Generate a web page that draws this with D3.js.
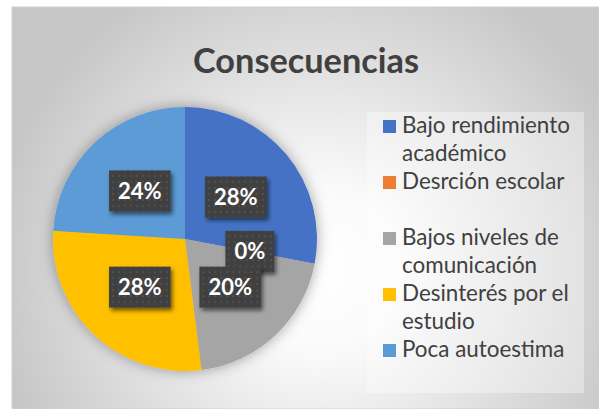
<!DOCTYPE html>
<html lang="es">
<head>
  <meta charset="UTF-8">
  <title>Consecuencias</title>
  <style>
    body { margin: 0; background: #fff; }
    svg { display: block; font-family: Lato, "Open Sans", sans-serif; }
  </style>
</head>
<body>
  <svg id="chart"></svg>

  <script src="https://d3js.org/d3.v7.min.js"></script>
  <script>
    // data
    const title = "Consecuencias";
    const categories = ["Bajo rendimiento académico", "Desrción escolar", "Bajos niveles de comunicación", "Desinterés por el estudio", "Poca autoestima"];
    const legendLines = [["Bajo rendimiento", "académico"], ["Desrción escolar", ""], ["Bajos niveles de", "comunicación"], ["Desinterés por el", "estudio"], ["Poca autoestima"]];
    const percents = [28, 0, 20, 28, 24];
    const colors = ["#4472C4", "#ED7D31", "#A5A5A5", "#FFC000", "#5B9BD5"];

    const W = 599, H = 409;
    const cx = 185, cy = 239, radius = 132;

    const svg = d3.select("#chart").attr("width", W).attr("height", H);
    const defs = svg.append("defs");

    // background gradient
    const bg = defs.append("radialGradient").attr("id", "bg")
      .attr("gradientUnits", "userSpaceOnUse")
      .attr("cx", 320).attr("cy", 270).attr("r", 330);
    bg.append("stop").attr("offset", 0).attr("stop-color", "#ffffff");
    bg.append("stop").attr("offset", 0.25).attr("stop-color", "#fafafa");
    bg.append("stop").attr("offset", 1).attr("stop-color", "#c6c6c6");

    const pieShadow = defs.append("filter").attr("id", "pieShadow")
      .attr("x", "-20%").attr("y", "-20%").attr("width", "140%").attr("height", "140%");
    pieShadow.append("feDropShadow").attr("dx", 0).attr("dy", 0)
      .attr("stdDeviation", 7).attr("flood-color", "#000").attr("flood-opacity", 0.35);

    const boxShadow = defs.append("filter").attr("id", "boxShadow")
      .attr("x", "-20%").attr("y", "-20%").attr("width", "150%").attr("height", "160%");
    boxShadow.append("feDropShadow").attr("dx", 2).attr("dy", 3)
      .attr("stdDeviation", 2).attr("flood-color", "#000").attr("flood-opacity", 0.55);

    const dots = defs.append("pattern").attr("id", "dots")
      .attr("patternUnits", "userSpaceOnUse").attr("width", 6).attr("height", 6);
    dots.append("rect").attr("width", 6).attr("height", 6).attr("fill", "#404040");
    dots.append("rect").attr("x", 2).attr("y", 2).attr("width", 2).attr("height", 2).attr("fill", "#515151");

    // chart area
    svg.append("rect").attr("x", 12).attr("y", 7).attr("width", W - 12).attr("height", H - 7)
      .attr("fill", "url(#bg)").attr("stroke", "#d0d0d0").attr("stroke-width", 1);

    // title, fitted to width
    const titleText = svg.append("text")
      .attr("x", 306).attr("y", 73)
      .attr("text-anchor", "middle")
      .attr("font-weight", "bold")
      .attr("font-size", 100)
      .attr("fill", "#404040")
      .text(title);
    titleText.attr("font-size", 100 * 226 / titleText.node().getComputedTextLength());

    // pie
    const pie = d3.pie().sort(null).value(d => d);
    const arcs = pie(percents);
    const arc = d3.arc().innerRadius(0).outerRadius(radius);

    const g = svg.append("g").attr("transform", `translate(${cx},${cy})`);
    g.append("g").attr("filter", "url(#pieShadow)")
      .selectAll("path")
      .data(arcs)
      .join("path")
      .attr("d", arc)
      .attr("fill", (d, i) => colors[i]);

    // data labels
    const labels = g.selectAll(".label")
      .data(arcs)
      .join("g")
      .attr("class", "label")
      .attr("transform", d => `translate(${arc.centroid(d)})`);

    labels.each(function(d) {
      const lg = d3.select(this);
      const rect = lg.append("rect").attr("fill", "url(#dots)").attr("filter", "url(#boxShadow)");
      const t = lg.append("text")
        .attr("text-anchor", "middle")
        .attr("dy", "0.36em")
        .attr("font-weight", "bold")
        .attr("font-size", 22)
        .attr("fill", "#fff")
        .text(d.data + "%");
      const tw = t.node().getComputedTextLength();
      rect.attr("x", -tw / 2 - 9).attr("y", -20.5).attr("width", tw + 18).attr("height", 41);
    });

    // legend
    const legend = svg.append("g").attr("id", "legend");
    legend.append("rect").attr("x", 367).attr("y", 112).attr("width", 217).attr("height", 281)
      .attr("fill", "#fff").attr("fill-opacity", 0.35);

    const lineH = 28;
    let line = 0;
    const sizeProbe = legend.append("text").attr("font-size", 100).text(legendLines[0][0]);
    const legendSize = 100 * 168 / sizeProbe.node().getComputedTextLength();
    sizeProbe.remove();

    categories.forEach((c, i) => {
      const baseY = 133 + line * lineH;
      legend.append("rect")
        .attr("x", 383).attr("y", baseY - 13)
        .attr("width", 13).attr("height", 13)
        .attr("fill", colors[i]);
      legendLines[i].forEach((s, j) => {
        legend.append("text")
          .attr("x", 402).attr("y", baseY + j * lineH)
          .attr("font-size", legendSize)
          .attr("fill", "#404040")
          .text(s);
      });
      line += legendLines[i].length;
    });
  </script>
</body>
</html>
